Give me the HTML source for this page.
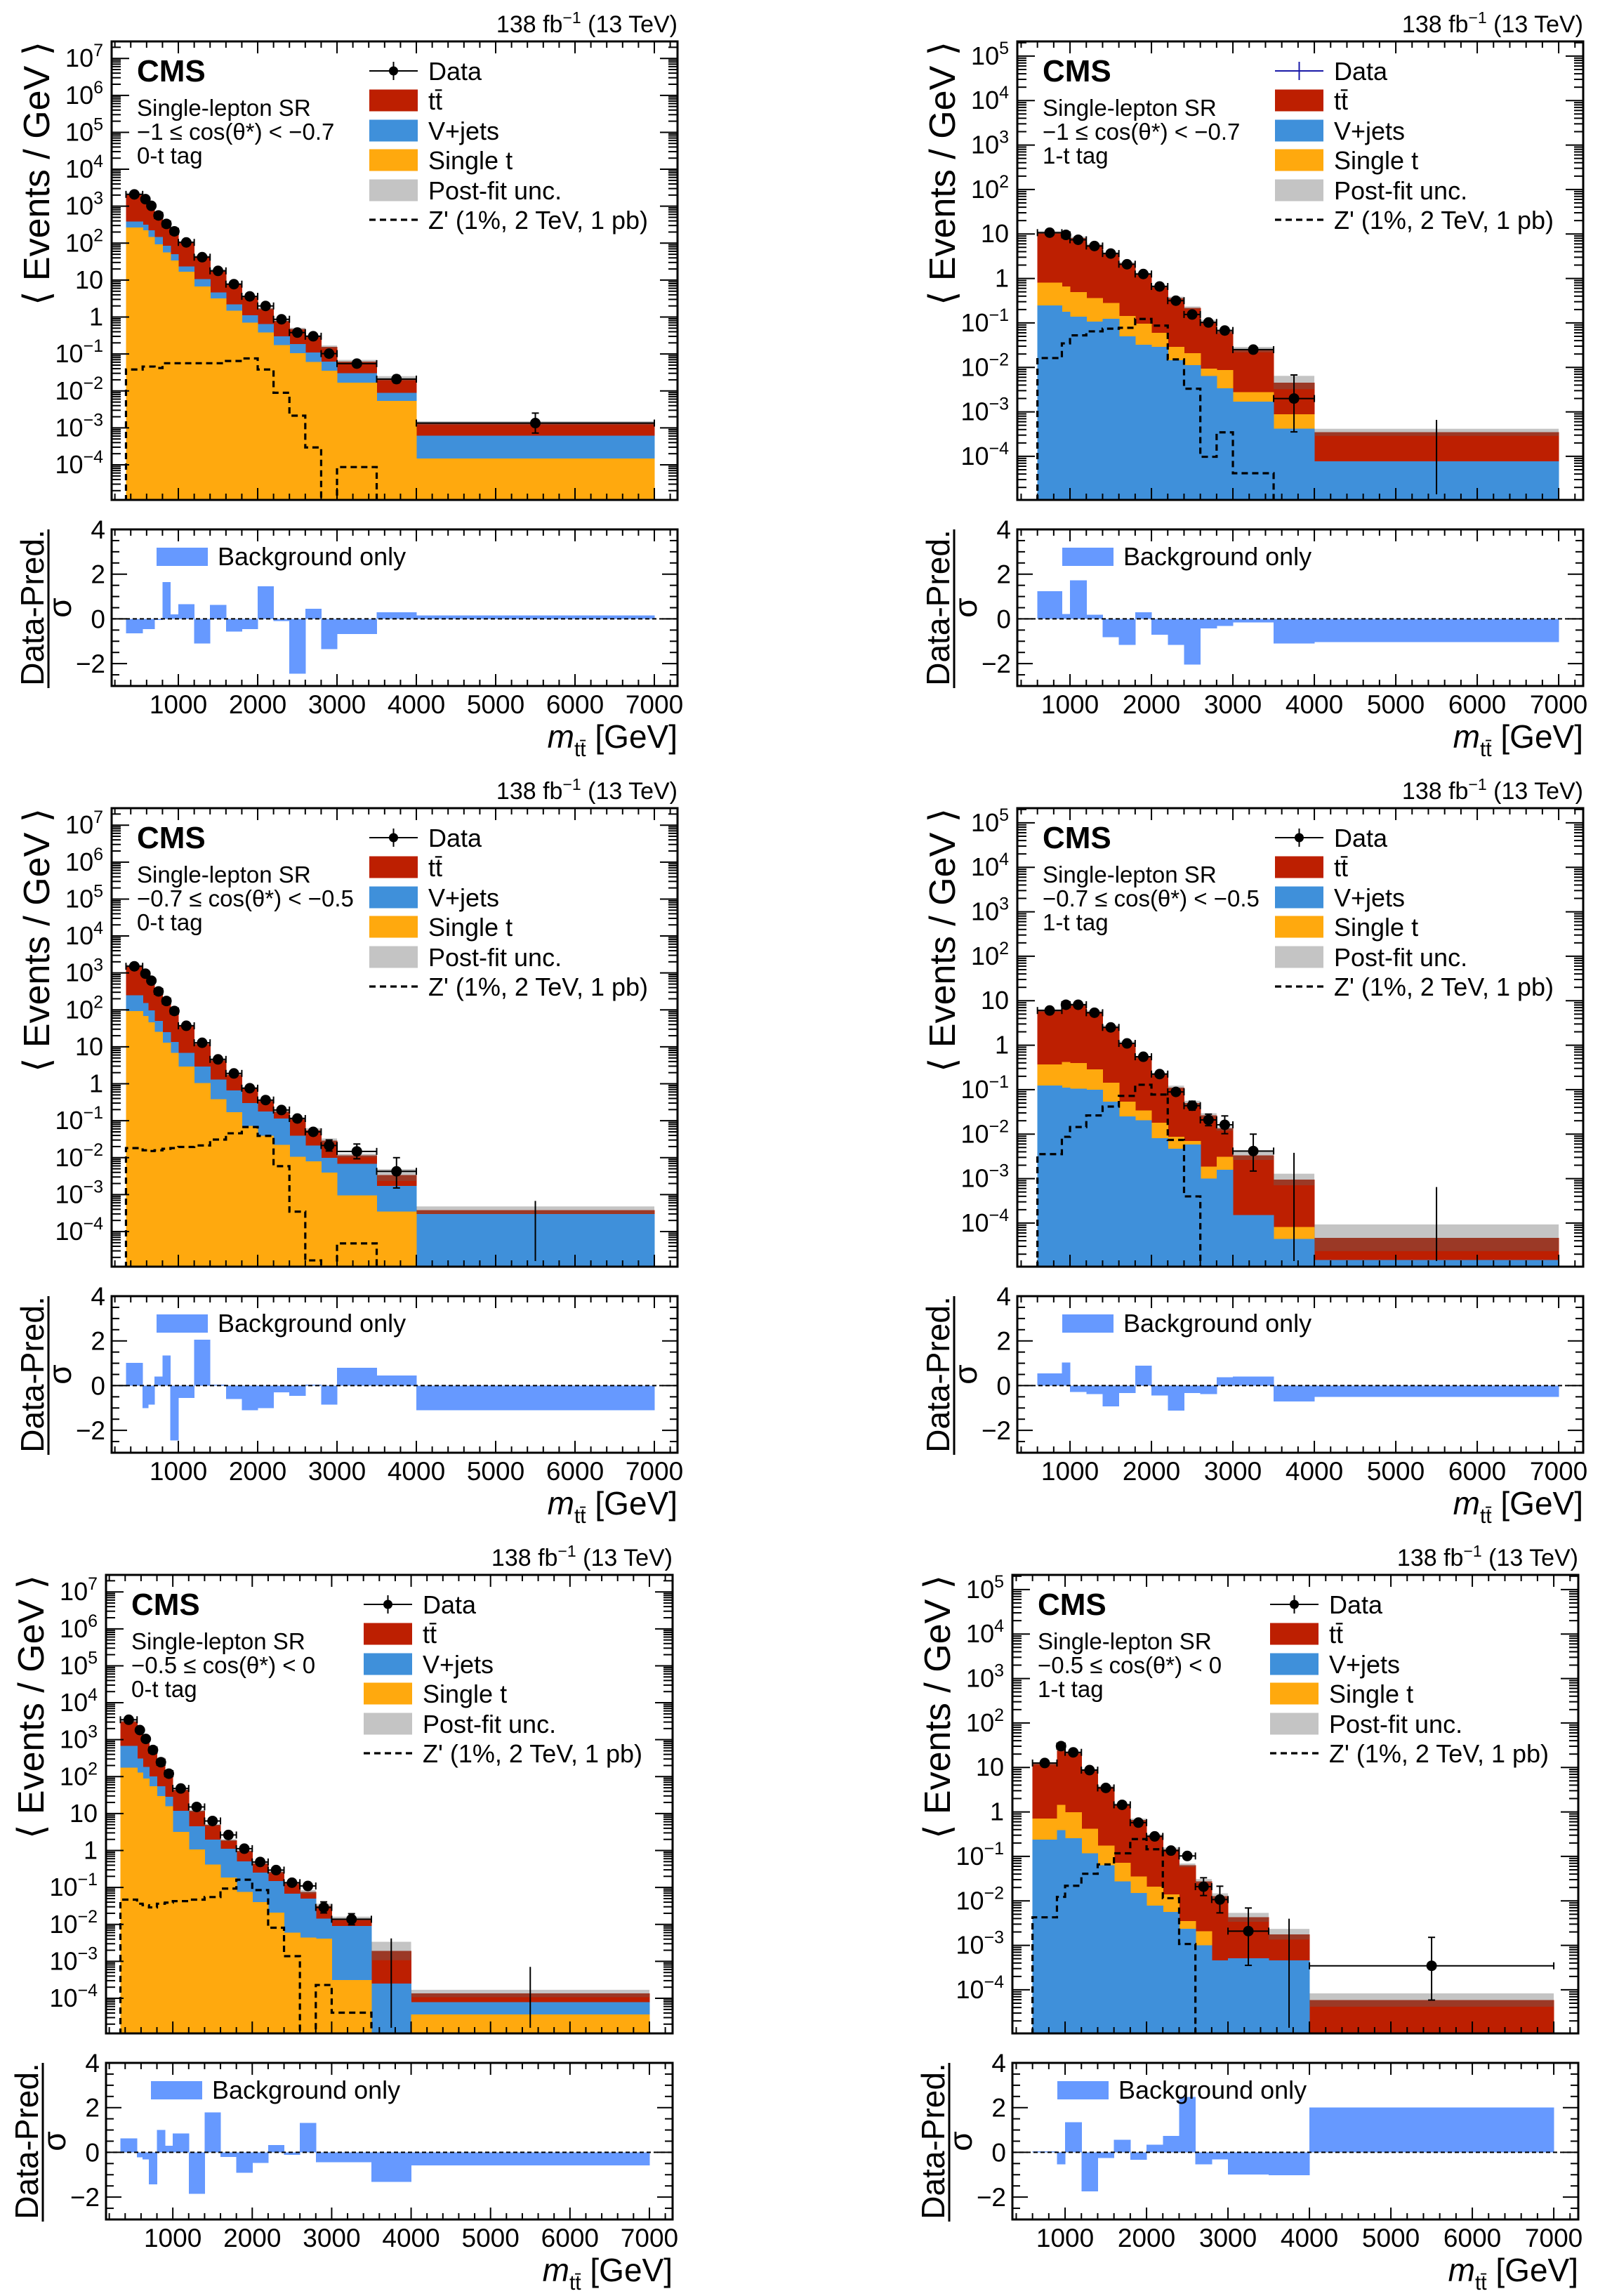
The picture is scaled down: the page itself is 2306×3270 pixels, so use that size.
<!DOCTYPE html>
<html><head><meta charset="utf-8"><title>CMS mtt distributions</title>
<style>
html,body{margin:0;padding:0;background:#fff;}
svg{display:block;font-family:"Liberation Sans","DejaVu Sans",sans-serif;}
</style></head>
<body>
<svg id="fig" xmlns="http://www.w3.org/2000/svg" width="2306" height="3270" viewBox="0 0 2306 3270">
<rect x="0" y="0" width="2306" height="3270" fill="#fff"/>
</svg>
<script>
// ---------------- binning ----------------
const edges0Tag = [340,550,620,700,800,900,1000,1200,1400,1600,1800,2000,2200,2400,2600,2800,3000,3500,4000,7000];
const edges1Tag = [600,900,1000,1200,1400,1600,1800,2000,2200,2400,2600,2800,3000,3500,4000,7000];
const xTickLabels = ["1000","2000","3000","4000","5000","6000","7000"];
const ratioTickLabels = ["−2","0","2","4"];
const ratioTickValues = [-2,0,2,4];

// values are log10(events/GeV) of cumulative stack levels; -9 = off scale
// ---- panel 1: 0-t tag, -1 <= cos < -0.7
const p1_layer1 = [2.42,2.35,2.17,1.97,1.75,1.53,1.23,0.83,0.50,0.17,-0.15,-0.42,-0.76,-0.98,-1.22,-1.45,-1.78,-2.27,-3.83];
const p1_layer2 = [2.59,2.50,2.35,2.17,1.93,1.70,1.37,1.03,0.67,0.34,0.05,-0.19,-0.52,-0.73,-0.96,-1.21,-1.52,-2.05,-3.21];
const p1_total  = [3.34,3.25,3.05,2.83,2.59,2.36,2.03,1.64,1.26,0.89,0.54,0.23,-0.10,-0.32,-0.52,-0.81,-1.21,-1.66,-2.87];
const p1_unc    = [0.03,0.03,0.03,0.03,0.03,0.03,0.03,0.03,0.03,0.03,0.03,0.03,0.03,0.03,0.03,0.04,0.05,0.06,0.05];
const p1_data   = [3.32,3.19,3.01,2.75,2.52,2.32,2.02,1.62,1.25,0.89,0.56,0.30,-0.06,-0.42,-0.52,-0.99,-1.26,-1.68,-2.87];
const p1_dataErrUp = [0.01,0.01,0.01,0.01,0.01,0.01,0.01,0.01,0.01,0.02,0.02,0.03,0.03,0.04,0.05,0.06,0.06,0.1,0.27];
const p1_dataErrDn = [0.01,0.01,0.01,0.01,0.01,0.01,0.01,0.01,0.01,0.02,0.02,0.03,0.03,0.04,0.05,0.06,0.06,0.1,0.27];
const p1_zprime = [-1.42,-1.34,-1.34,-1.38,-1.25,-1.25,-1.25,-1.25,-1.25,-1.19,-1.12,-1.42,-2.05,-2.67,-3.53,-9,-4.06,-9,-9];
const p1_ratio  = [-0.64,-0.45,-0.45,-0.05,1.65,0.2,0.65,-1.1,0.62,-0.57,-0.45,1.45,-0.1,-2.45,0.45,-1.35,-0.68,0.3,0.15];

// ---- panel 2: 1-t tag, -1 <= cos < -0.7
const p2_layer1 = [-0.61,-0.75,-0.86,-0.97,-0.91,-1.30,-1.49,-1.54,-1.84,-1.95,-2.19,-2.47,-2.77,-3.38,-4.11];
const p2_layer2 = [-0.09,-0.18,-0.31,-0.44,-0.55,-0.84,-1.02,-1.22,-1.54,-1.68,-2.03,-2.06,-2.56,-3.05,-4.11];
const p2_total  = [1.03,0.97,0.91,0.75,0.56,0.34,0.10,-0.18,-0.44,-0.66,-0.97,-1.19,-1.60,-2.34,-3.46];
const p2_unc    = [0.03,0.03,0.03,0.03,0.03,0.03,0.03,0.03,0.03,0.03,0.04,0.05,0.06,0.15,0.08];
const p2_data   = [1.03,0.98,0.87,0.73,0.56,0.32,0.10,-0.18,-0.50,-0.81,-0.99,-1.17,-1.60,-2.70,null];
const p2_dataErrUp = [0.01,0.01,0.02,0.02,0.03,0.03,0.04,0.04,0.04,0.05,0.06,0.07,0.08,0.53,-3.18];
const p2_dataErrDn = [0.01,0.01,0.02,0.02,0.03,0.03,0.04,0.04,0.04,0.05,0.06,0.07,0.08,0.75,0];
const p2_zprime = [-1.79,-1.46,-1.28,-1.19,-1.13,-1.11,-0.91,-1.06,-1.82,-2.48,-4.01,-3.46,-4.38,-9,-9];
const p2_ratio  = [1.24,0.22,1.73,0.18,-0.82,-1.16,0.29,-0.71,-1.16,-2.04,-0.42,-0.31,-0.16,-1.1,-1.04];

// ---- panel 3: 0-t tag, -0.7 <= cos < -0.5
const p3_layer1 = [1.97,1.83,1.66,1.41,1.11,0.84,0.47,0.02,-0.42,-0.77,-1.14,-1.41,-1.65,-1.98,-2.10,-2.40,-3.02,-3.46,-9];
const p3_layer2 = [2.40,2.19,1.99,1.70,1.40,1.13,0.84,0.47,0.11,-0.18,-0.52,-0.75,-0.94,-1.41,-1.67,-2.00,-2.17,-2.76,-3.52];
const p3_total  = [3.20,2.98,2.76,2.43,2.16,1.93,1.57,1.08,0.64,0.25,-0.11,-0.46,-0.75,-0.94,-1.25,-1.54,-1.94,-2.47,-3.42];
const p3_unc    = [0.03,0.03,0.03,0.03,0.03,0.03,0.03,0.03,0.03,0.03,0.03,0.03,0.04,0.04,0.05,0.06,0.05,0.16,0.1];
const p3_data   = [3.18,2.98,2.79,2.50,2.24,1.97,1.57,1.11,0.66,0.28,-0.12,-0.44,-0.71,-0.94,-1.30,-1.67,-1.83,-2.37,null];
const p3_dataErrUp = [0.01,0.01,0.01,0.01,0.01,0.01,0.01,0.02,0.02,0.03,0.04,0.05,0.05,0.06,0.08,0.15,0.2,0.37,-3.17];
const p3_dataErrDn = [0.01,0.01,0.01,0.01,0.01,0.01,0.01,0.02,0.02,0.03,0.04,0.05,0.05,0.06,0.08,0.15,0.2,0.45,0];
const p3_zprime = [-1.74,-1.80,-1.82,-1.80,-1.76,-1.74,-1.71,-1.67,-1.51,-1.34,-1.17,-1.41,-2.23,-3.46,-4.78,-9,-4.32,-9,-9];
const p3_ratio  = [1.02,-1.0,-0.85,0.4,1.35,-2.45,-0.55,2.05,0.05,-0.6,-1.1,-1.0,-0.3,-0.45,0.05,-0.85,0.8,0.45,-1.1];

// ---- panel 4: 1-t tag, -0.7 <= cos < -0.5
const p4_layer1 = [-0.91,-0.95,-0.98,-1.00,-1.27,-1.60,-1.69,-2.09,-2.33,-2.23,-3.00,-2.80,-3.82,-4.36,-4.83];
const p4_layer2 = [-0.43,-0.38,-0.40,-0.54,-0.84,-1.27,-1.47,-1.74,-2.06,-2.15,-2.73,-2.51,-3.82,-4.09,-4.83];
const p4_total  = [0.78,0.91,0.91,0.75,0.42,0.06,-0.27,-0.65,-0.95,-1.30,-1.58,-1.87,-2.48,-3.02,-4.33];
const p4_unc    = [0.03,0.03,0.03,0.03,0.03,0.03,0.03,0.03,0.04,0.05,0.05,0.05,0.1,0.13,0.3];
const p4_data   = [0.78,0.91,0.91,0.73,0.40,0.04,-0.26,-0.65,-1.05,-1.36,-1.68,-1.79,-2.38,null,null];
const p4_dataErrUp = [0.02,0.02,0.02,0.02,0.03,0.04,0.05,0.06,0.07,0.1,0.13,0.2,0.38,-2.42,-3.19];
const p4_dataErrDn = [0.02,0.02,0.02,0.02,0.03,0.04,0.05,0.06,0.07,0.1,0.13,0.2,0.45,0,0];
const p4_zprime = [-2.45,-2.06,-1.84,-1.58,-1.38,-1.14,-0.89,-1.11,-2.13,-3.40,-9,-9,-9,-9,-9];
const p4_ratio  = [0.55,1.04,-0.29,-0.38,-0.93,-0.33,0.89,-0.44,-1.11,-0.33,-0.38,0.38,0.4,-0.71,-0.51];

// ---- panel 5: 0-t tag, -0.5 <= cos < 0
const p5_layer1 = [2.24,2.11,1.95,1.74,1.47,1.20,0.50,0.03,-0.38,-0.73,-1.12,-1.40,-1.68,-2.22,-2.36,-2.38,-3.51,-9,-4.44];
const p5_layer2 = [2.83,2.49,2.26,2.01,1.74,1.45,1.07,0.66,0.30,0.05,-0.29,-0.60,-0.83,-1.17,-1.30,-1.84,-2.04,-3.60,-4.10];
const p5_total  = [3.50,3.30,2.99,2.80,2.49,2.15,1.64,1.07,0.69,0.28,-0.01,-0.35,-0.58,-0.89,-1.12,-1.50,-1.84,-2.72,-3.87];
const p5_unc    = [0.03,0.03,0.03,0.03,0.03,0.03,0.03,0.03,0.03,0.03,0.03,0.03,0.04,0.04,0.05,0.06,0.05,0.25,0.1];
const p5_data   = [3.54,3.26,3.02,2.72,2.39,2.08,1.68,1.18,0.80,0.42,0.05,-0.31,-0.53,-0.87,-0.96,-1.54,-1.86,null,null];
const p5_dataErrUp = [0.01,0.01,0.01,0.01,0.01,0.01,0.01,0.02,0.02,0.03,0.04,0.05,0.05,0.06,0.07,0.15,0.15,-2.38,-3.15];
const p5_dataErrDn = [0.01,0.01,0.01,0.01,0.01,0.01,0.01,0.02,0.02,0.03,0.04,0.05,0.05,0.06,0.07,0.15,0.15,0,0];
const p5_zprime = [-1.33,-1.44,-1.48,-1.54,-1.44,-1.41,-1.37,-1.33,-1.26,-1.03,-0.79,-1.07,-2.09,-2.86,-9,-3.64,-4.39,-9,-9];
const p5_ratio  = [0.62,-0.22,-0.31,-1.43,1.0,0.29,0.84,-1.85,1.78,-0.2,-0.92,-0.48,0.33,-0.11,1.32,-0.44,-0.44,-1.32,-0.59];

// ---- panel 6: 1-t tag, -0.5 <= cos < 0
const p6_layer1 = [-0.62,-0.41,-0.59,-0.93,-1.20,-1.56,-1.82,-2.11,-2.25,-2.63,-3.00,-3.34,-3.29,-3.34,-9];
const p6_layer2 = [-0.15,0.16,-0.01,-0.38,-0.76,-1.14,-1.45,-1.68,-1.85,-2.45,-2.68,-3.34,-3.29,-3.34,-9];
const p6_total  = [1.08,1.39,1.33,0.94,0.56,0.16,-0.18,-0.53,-0.84,-1.20,-1.56,-1.89,-2.37,-2.75,-4.23];
const p6_unc    = [0.03,0.03,0.03,0.03,0.03,0.03,0.03,0.03,0.04,0.04,0.05,0.06,0.1,0.12,0.15];
const p6_data   = [1.10,1.48,1.34,0.94,0.54,0.16,-0.24,-0.55,-0.87,-0.99,-1.68,-1.97,-2.68,null,-3.46];
const p6_dataErrUp = [0.02,0.02,0.02,0.02,0.03,0.04,0.05,0.06,0.07,0.08,0.2,0.3,0.52,-2.40,0.64];
const p6_dataErrDn = [0.02,0.02,0.02,0.02,0.03,0.04,0.05,0.06,0.07,0.08,0.2,0.3,0.77,0,0.77];
const p6_zprime = [-2.37,-1.91,-1.66,-1.39,-1.18,-0.93,-0.61,-0.84,-1.94,-2.97,-9,-9,-9,-9,-9];
const p6_ratio  = [0.05,-0.53,1.34,-1.74,-0.26,0.57,-0.33,0.35,0.73,2.48,-0.53,-0.31,-0.99,-1.03,2.0];

const COL = {red:'#bd1f01', blue:'#3f90da', orange:'#ffa90e', ratio:'#6699ff'};
const NS = 'http://www.w3.org/2000/svg';
const svg = document.getElementById('fig');

function mk(tag, attrs, parent){
  const e = document.createElementNS(NS, tag);
  for (const k in attrs) e.setAttribute(k, attrs[k]);
  (parent||svg).appendChild(e);
  return e;
}

const panels = [
 {id:'p1', L:159, R:965, T:59, B:712, rT:754, rB:977, xmin:159, xmax:7292, lmin:-4.95, lmax:7.46, yDec:[-4,7], edges:edges0Tag, tag0:true,
  l1:p1_layer1,l2:p1_layer2,tot:p1_total,unc:p1_unc,data:p1_data,eu:p1_dataErrUp,ed:p1_dataErrDn,zp:p1_zprime,ratio:p1_ratio,
  lines:['Single-lepton SR','−1 ≤ cos(θ*) < −0.7','0-t tag'], blueData:false},
 {id:'p2', L:1449, R:2255, T:59, B:712, rT:754, rB:977, xmin:353, xmax:7301, lmin:-4.98, lmax:5.33, yDec:[-4,5], edges:edges1Tag, tag0:false,
  l1:p2_layer1,l2:p2_layer2,tot:p2_total,unc:p2_unc,data:p2_data,eu:p2_dataErrUp,ed:p2_dataErrDn,zp:p2_zprime,ratio:p2_ratio,
  lines:['Single-lepton SR','−1 ≤ cos(θ*) < −0.7','1-t tag'], blueData:true},
 {id:'p3', L:159, R:965, T:1151, B:1804, rT:1846, rB:2069, xmin:159, xmax:7292, lmin:-4.95, lmax:7.46, yDec:[-4,7], edges:edges0Tag, tag0:true,
  l1:p3_layer1,l2:p3_layer2,tot:p3_total,unc:p3_unc,data:p3_data,eu:p3_dataErrUp,ed:p3_dataErrDn,zp:p3_zprime,ratio:p3_ratio,
  lines:['Single-lepton SR','−0.7 ≤ cos(θ*) < −0.5','0-t tag'], blueData:false},
 {id:'p4', L:1449, R:2255, T:1151, B:1804, rT:1846, rB:2069, xmin:353, xmax:7301, lmin:-4.98, lmax:5.33, yDec:[-4,5], edges:edges1Tag, tag0:false,
  l1:p4_layer1,l2:p4_layer2,tot:p4_total,unc:p4_unc,data:p4_data,eu:p4_dataErrUp,ed:p4_dataErrDn,zp:p4_zprime,ratio:p4_ratio,
  lines:['Single-lepton SR','−0.7 ≤ cos(θ*) < −0.5','1-t tag'], blueData:false},
 {id:'p5', L:151, R:958, T:2243, B:2896, rT:2938, rB:3161, xmin:159, xmax:7292, lmin:-4.95, lmax:7.46, yDec:[-4,7], edges:edges0Tag, tag0:true,
  l1:p5_layer1,l2:p5_layer2,tot:p5_total,unc:p5_unc,data:p5_data,eu:p5_dataErrUp,ed:p5_dataErrDn,zp:p5_zprime,ratio:p5_ratio,
  lines:['Single-lepton SR','−0.5 ≤ cos(θ*) < 0','0-t tag'], blueData:false},
 {id:'p6', L:1442, R:2248, T:2243, B:2896, rT:2938, rB:3161, xmin:353, xmax:7301, lmin:-4.98, lmax:5.33, yDec:[-4,5], edges:edges1Tag, tag0:false,
  l1:p6_layer1,l2:p6_layer2,tot:p6_total,unc:p6_unc,data:p6_data,eu:p6_dataErrUp,ed:p6_dataErrDn,zp:p6_zprime,ratio:p6_ratio,
  lines:['Single-lepton SR','−0.5 ≤ cos(θ*) < 0','1-t tag'], blueData:false}
];

const RMIN=-3, RMAX=4;

function drawPanel(p){
  const g = mk('g',{});
  
  
  const xs = v => p.L + (v - p.xmin)/(p.xmax - p.xmin)*(p.R - p.L);
  const ys = lg => p.B - (lg - p.lmin)/(p.lmax - p.lmin)*(p.B - p.T);
  const yr = v => p.rB - (v - RMIN)/(RMAX - RMIN)*(p.rB - p.rT);
  const clamp = y => Math.max(p.T, Math.min(p.B, y));

  const defs = mk('defs',{},g);
  const cp = mk('clipPath',{id:'clip-'+p.id},defs);
  mk('rect',{x:p.L,y:p.T,width:p.R-p.L,height:p.B-p.T},cp);
  const cpr = mk('clipPath',{id:'clipr-'+p.id},defs);
  mk('rect',{x:p.L,y:p.rT,width:p.R-p.L,height:p.rB-p.rT},cpr);

  const main = mk('g',{'clip-path':'url(#clip-'+p.id+')'},g);
  
  

  const c1 = p.tag0 ? COL.orange : COL.blue;
  const c2 = p.tag0 ? COL.blue : COL.orange;
  const n = p.edges.length-1;
  const layers = [[p.tot, COL.red, 'ttbar'], [p.l2, c2, p.tag0?'vjets':'single-t'], [p.l1, c1, p.tag0?'single-t':'vjets']];
  layers.forEach(([arr,col,nm])=>{
    for(let i=0;i<n;i++){
      if(arr[i] <= -8) continue;
      const x0 = xs(p.edges[i]), x1 = xs(p.edges[i+1]);
      const y = clamp(ys(arr[i]));
      const r = mk('rect',{x:x0,y:y,width:x1-x0+0.6,height:p.B-y,fill:col,'shape-rendering':'crispEdges'},main);
      
      
    }
  });
  for(let i=0;i<n;i++){
    const x0 = xs(p.edges[i]), x1 = xs(p.edges[i+1]);
    const yt = ys(p.tot[i]+p.unc[i]), yb = ys(p.tot[i]-p.unc[i]);
    const r = mk('rect',{x:x0,y:yt,width:x1-x0,height:Math.max(1,yb-yt),fill:'rgb(100,100,100)','fill-opacity':0.38},main);
    
    
  }
  let d='';
  for(let i=0;i<n;i++){
    const x0 = xs(p.edges[i]), x1 = xs(p.edges[i+1]);
    const y = p.zp[i] <= -8 ? p.B+2 : clamp(ys(p.zp[i]));
    d += (i===0 ? 'M'+x0+','+(p.B+2)+' L'+x0+','+y : ' L'+x0+','+y) + ' L'+x1+','+y;
  }
  d += ' L'+xs(p.edges[n])+','+(p.B+2);
  const zl = mk('path',{d:d,fill:'none',stroke:'#000','stroke-width':3.2,'stroke-dasharray':'9,6'},main);
  
  
  const dc = '#000';
  for(let i=0;i<n;i++){
    const xc = (xs(p.edges[i])+xs(p.edges[i+1]))/2;
    if(p.data[i]===null){
      const yu = ys(p.eu[i]);
      const l = mk('line',{x1:xc,y1:yu,x2:xc,y2:p.B-8,stroke:dc,'stroke-width':2},main);
      
      
      continue;
    }
    const y = ys(p.data[i]);
    const gx = mk('g',{},main);
    
    
    mk('line',{x1:xs(p.edges[i]),y1:y,x2:xs(p.edges[i+1]),y2:y,stroke:dc,'stroke-width':2},gx);
    const yu = ys(p.data[i]+p.eu[i]), yd = ys(p.data[i]-p.ed[i]);
    mk('line',{x1:xc,y1:yu,x2:xc,y2:yd,stroke:dc,'stroke-width':2},gx);
    if(p.eu[i]>0.08){
      mk('line',{x1:xc-5,y1:yu,x2:xc+5,y2:yu,stroke:dc,'stroke-width':2},gx);
      mk('line',{x1:xc-5,y1:yd,x2:xc+5,y2:yd,stroke:dc,'stroke-width':2},gx);
    }
    mk('line',{x1:xs(p.edges[i]),y1:y-5,x2:xs(p.edges[i]),y2:y+5,stroke:dc,'stroke-width':2},gx);
    mk('line',{x1:xs(p.edges[i+1]),y1:y-5,x2:xs(p.edges[i+1]),y2:y+5,stroke:dc,'stroke-width':2},gx);
    mk('circle',{cx:xc,cy:y,r:7.5,fill:dc},gx);
  }

  const f1 = mk('rect',{x:p.L,y:p.T,width:p.R-p.L,height:p.B-p.T,fill:'none',stroke:'#000','stroke-width':3},g);
   
  const f2 = mk('rect',{x:p.L,y:p.rT,width:p.R-p.L,height:p.rB-p.rT,fill:'none',stroke:'#000','stroke-width':3},g);
   

  const tk = mk('g',{stroke:'#000','stroke-width':2},g);
   
  for(let v=Math.ceil(p.xmin/200)*200; v<=p.xmax; v+=200){
    const x = xs(v), major = (v%1000===0), len = major?17:9;
    [[p.T,p.B],[p.rT,p.rB]].forEach(([t,b])=>{
      mk('line',{x1:x,y1:b,x2:x,y2:b-len},tk);
      mk('line',{x1:x,y1:t,x2:x,y2:t+len},tk);
    });
  }
  for(let dcd=Math.floor(p.lmin); dcd<=Math.ceil(p.lmax); dcd++){
    for(let k=1;k<=9;k++){
      const lg = dcd+Math.log10(k);
      if(lg<p.lmin||lg>p.lmax) continue;
      const y = ys(lg), len = k===1?25:13;
      mk('line',{x1:p.L,y1:y,x2:p.L+len,y2:y},tk);
      mk('line',{x1:p.R,y1:y,x2:p.R-len,y2:y},tk);
    }
  }
  for(let v=RMIN; v<=RMAX+0.01; v+=0.5){
    const y = yr(v), len = (Math.abs(v%2)<0.01)?22:11;
    mk('line',{x1:p.L,y1:y,x2:p.L+len,y2:y},tk);
    mk('line',{x1:p.R,y1:y,x2:p.R-len,y2:y},tk);
  }

  const rg = mk('g',{'clip-path':'url(#clipr-'+p.id+')'},g);
   
  for(let i=0;i<n;i++){
    const x0 = xs(p.edges[i]), x1 = xs(p.edges[i+1]);
    const y0 = yr(0), y1 = yr(p.ratio[i]);
    const r = mk('rect',{x:x0,y:Math.min(y0,y1),width:x1-x0+0.5,height:Math.max(1.5,Math.abs(y1-y0)),fill:COL.ratio,'shape-rendering':'crispEdges'},rg);
    
    
  }
  const zl0 = mk('line',{x1:p.L,y1:yr(0),x2:p.R,y2:yr(0),stroke:'#000','stroke-width':2,'stroke-dasharray':'6,4'},g);
   

  function txt(x,y,s,attrs,name){
    const t = mk('text',Object.assign({x:x,y:y},attrs||{}),g);
    t.textContent = s;
    
    
    return t;
  }
  xTickLabels.forEach((s)=>{
    const v = +s;
    txt(xs(v), p.rB+39, s, {'font-size':37,'text-anchor':'middle'}, 'x-tick-label');
  });
  ratioTickValues.forEach((v,i)=>{
    txt(p.L-9, yr(v)+13, ratioTickLabels[i], {'font-size':37,'text-anchor':'end'}, 'ratio-y-tick-label');
  });
  for(let dcd=p.yDec[0]; dcd<=p.yDec[1]; dcd++){
    const y = ys(dcd)+12;
    let t;
    if(dcd===0){ t = txt(p.L-12, y, '1', {'font-size':36,'text-anchor':'end'}, 'y-tick-label'); }
    else if(dcd===1){ t = txt(p.L-12, y, '10', {'font-size':36,'text-anchor':'end'}, 'y-tick-label'); }
    else {
      t = txt(p.L-12, y, '', {'font-size':36,'text-anchor':'end'}, 'y-tick-label');
      const a = document.createElementNS(NS,'tspan'); a.textContent='10'; t.appendChild(a);
      const b = document.createElementNS(NS,'tspan'); b.setAttribute('font-size','25'); b.setAttribute('dy','-15');
      b.textContent = dcd<0 ? ('−'+(-dcd)) : String(dcd); t.appendChild(b);
    }
  }
  const xt = txt(p.R, p.rB+88, '', {'font-size':46,'text-anchor':'end'}, 'x-axis-title');
  const m1 = document.createElementNS(NS,'tspan'); m1.setAttribute('font-style','italic'); m1.textContent='m'; xt.appendChild(m1);
  const m2 = document.createElementNS(NS,'tspan'); m2.setAttribute('font-size','30'); m2.setAttribute('dy','12'); m2.textContent='tt̄'; xt.appendChild(m2);
  const m3 = document.createElementNS(NS,'tspan'); m3.setAttribute('dy','-12'); m3.textContent=' [GeV]'; xt.appendChild(m3);

  const yt = mk('text',{transform:'translate('+(p.L-89)+','+p.T+') rotate(-90)','font-size':52,'text-anchor':'end',x:0,y:0},g);
  yt.textContent = '⟨ Events / GeV ⟩';
   

  const rt = mk('text',{transform:'translate('+(p.L-97)+','+((p.rT+p.rB)/2)+') rotate(-90)','font-size':46,'text-anchor':'middle',x:0,y:0},g);
  rt.textContent = 'Data-Pred.';
   
  const fl = mk('line',{x1:p.L-90,y1:p.rT,x2:p.L-90,y2:p.rB+3,stroke:'#000','stroke-width':3},g);
   
  const st = mk('text',{transform:'translate('+(p.L-58)+','+((p.rT+p.rB)/2)+') rotate(-90)','font-size':46,'text-anchor':'middle',x:0,y:0},g);
  st.textContent = 'σ';
   

  const lt = txt(p.R, p.T-13, '138 fb', {'font-size':34,'text-anchor':'end'}, 'lumi-label');
  const s1 = document.createElementNS(NS,'tspan'); s1.setAttribute('font-size','23'); s1.setAttribute('dy','-13'); s1.textContent='−1'; lt.appendChild(s1);
  const s2 = document.createElementNS(NS,'tspan'); s2.setAttribute('dy','13'); s2.textContent=' (13 TeV)'; lt.appendChild(s2);

  txt(p.L+36, p.T+57, 'CMS', {'font-size':44,'font-weight':'bold'}, 'cms-label');
  txt(p.L+36, p.T+106, p.lines[0], {'font-size':33}, 'region-label');
  txt(p.L+36, p.T+140, p.lines[1], {'font-size':33}, 'cos-theta-range-label');
  txt(p.L+36, p.T+174, p.lines[2], {'font-size':33}, 'tag-category-label');

  const lg = mk('g',{},g);
   
  const bx = p.L+367, bw = 69, tx = p.L+451;
  const rows = [42,84,127,169,212,254].map(v=>p.T+v);
  const dcol = p.blueData ? '#1a1aa8' : '#000';
  mk('line',{x1:bx,y1:rows[0],x2:bx+bw,y2:rows[0],stroke:dcol,'stroke-width':2},lg);
  mk('line',{x1:bx+bw/2,y1:rows[0]-13,x2:bx+bw/2,y2:rows[0]+13,stroke:dcol,'stroke-width':2},lg);
  if(!p.blueData) mk('circle',{cx:bx+bw/2,cy:rows[0],r:6.5,fill:'#000'},lg);
  const cols = [COL.red, COL.blue, COL.orange, '#c4c4c4'];
  cols.forEach((c,i)=>{
    const r = mk('rect',{x:bx,y:rows[i+1]-15.5,width:bw,height:31,fill:c},lg);
     
  });
  mk('line',{x1:bx,y1:rows[5],x2:bx+bw,y2:rows[5],stroke:'#000','stroke-width':3.2,'stroke-dasharray':'9,6'},lg);
  const labels = ['Data','tt̄','V+jets','Single t','Post-fit unc.',"Z' (1%, 2 TeV, 1 pb)"];
  labels.forEach((s,i)=>{
    const t = mk('text',{x:tx,y:rows[i]+13,'font-size':36},lg);
    t.textContent = s;
     
  });
  const rb = mk('rect',{x:p.L+64,y:p.rT+26,width:73,height:26,fill:COL.ratio},g);
   
  txt(p.L+151, p.rT+51, 'Background only', {'font-size':36}, 'ratio-legend-label');
}

panels.forEach(drawPanel);
</script>
</body></html>
